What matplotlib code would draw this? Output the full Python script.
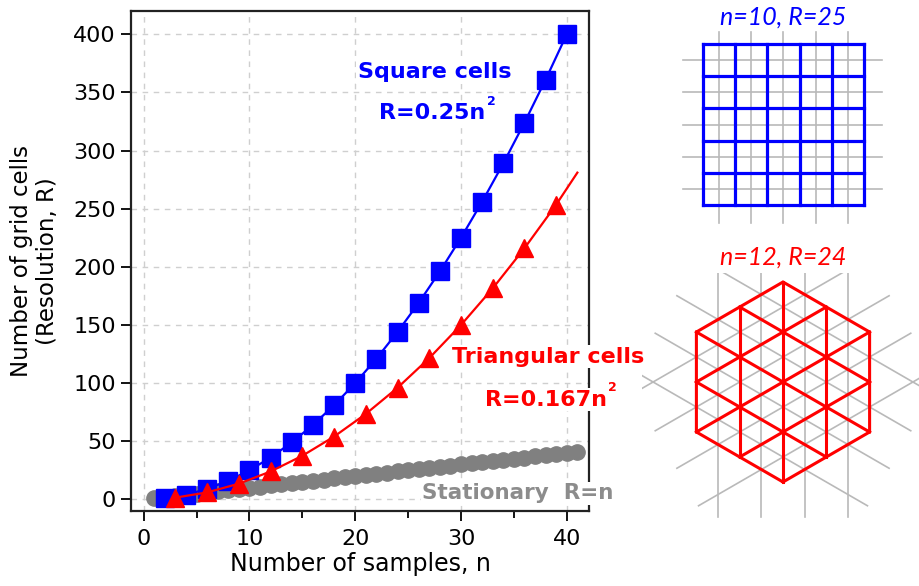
import numpy as np
import matplotlib
matplotlib.use("Agg")
import matplotlib.pyplot as plt
from matplotlib.patches import Rectangle

plt.rcParams['font.family'] = ['DejaVu Sans']

# square cells, R = 0.25 n^2
sq_n = [2, 4, 6, 8, 10, 12, 14, 16, 18, 20, 22, 24, 26, 28, 30, 32, 34, 36, 38, 40]
sq_R = [1, 4, 9, 16, 25, 36, 49, 64, 81, 100, 121, 144, 169, 196, 225, 256, 289, 324, 361, 400]
# triangular cells, R = 0.167 n^2
tri_n = [3, 6, 9, 12, 15, 18, 21, 24, 27, 30, 33, 36, 39]
tri_R = [1.5, 6, 13.5, 24, 37.5, 54, 73.5, 96, 121.5, 150, 181.5, 216, 253.5]
tri_fit_n = tri_n + [41]
tri_fit_R = tri_R + [281]
# stationary, R = n
stat_n = [1, 2, 3, 4, 5, 6, 7, 8, 9, 10, 11, 12, 13, 14, 15, 16, 17, 18, 19, 20, 21,
          22, 23, 24, 25, 26, 27, 28, 29, 30, 31, 32, 33, 34, 35, 36, 37, 38, 39, 40, 41]
stat_R = stat_n

BLUE = '#0000ff'
RED = '#ff0000'
GRAY = '#808080'
LGRAY = '#b9b9b9'

fig = plt.figure(figsize=(9.2, 5.86), dpi=100)

# overlay in pixel coordinates for the two schematic grids
ov = fig.add_axes([0, 0, 1, 1], zorder=0)
ov.set_xlim(0, 920)
ov.set_ylim(586, 0)
ov.axis('off')

# --- square grid: n=10 sample lines, 5x5 cells
cx, cy, cell, ncell = 783.5, 124.5, 32.2, 5
half = cell * ncell / 2
for k in range(-2, 3):
    ov.plot([cx + k * cell] * 2, [32, 223], color=LGRAY, lw=1.2)
    ov.plot([683, 882], [cy + k * cell] * 2, color=LGRAY, lw=1.2)
for k in range(ncell + 1):
    p = -half + k * cell
    ov.plot([cx + p] * 2, [cy - half, cy + half], color=BLUE, lw=2.3,
            solid_capstyle='projecting')
    ov.plot([cx - half, cx + half], [cy + p] * 2, color=BLUE, lw=2.3,
            solid_capstyle='projecting')
ov.text(cx, 17, "n=10, R=25", color=BLUE, style='italic', family='Lato',
        fontsize=18, ha='center', va='center')

# --- hexagonal triangular grid: n=12 sample lines, 24 cells
hx, hy, side = 783.0, 382.0, 100.0
step = side * np.sqrt(3) / 4  # spacing between parallel lines
clip = Rectangle((642, 273.3), 300, 330, transform=ov.transData)
for ang in (90, 30, -30):
    a = np.radians(ang)
    d = np.array([np.cos(a), np.sin(a)])
    nrm = np.array([-np.sin(a), np.cos(a)])
    # gray sample lines, offset by half a cell
    for off in (-1.5, -0.5, 0.5, 1.5):
        c = np.array([hx, hy]) + off * step * nrm
        p0, p1 = c - 135 * d, c + 135 * d
        ln, = ov.plot([p0[0], p1[0]], [p0[1], p1[1]], color=LGRAY, lw=1.2)
        ln.set_clip_path(clip)
for ang in (90, 30, -30):
    a = np.radians(ang)
    d = np.array([np.cos(a), np.sin(a)])
    nrm = np.array([-np.sin(a), np.cos(a)])
    for off, hl in ((-1, 75.0), (0, 100.0), (1, 75.0)):
        c = np.array([hx, hy]) + off * step * nrm
        p0, p1 = c - hl * d, c + hl * d
        ov.plot([p0[0], p1[0]], [p0[1], p1[1]], color=RED, lw=2.2)
angs = np.radians(np.arange(90, 451, 60))
ov.plot(hx + side * np.cos(angs), hy + side * np.sin(angs), color=RED, lw=2.2,
        solid_joinstyle='miter')
ov.text(hx, 257, "n=12, R=24", color=RED, style='italic', family='Lato',
        fontsize=18, ha='center', va='center')

# --- main chart
ax = fig.add_axes([131 / 920, 1 - 511 / 586, 458 / 920, 500 / 586], zorder=1)
ax.plot(stat_n, stat_R, 'o', color=GRAY, ms=11, zorder=2)
ax.plot(sq_n, sq_R, '-', color=BLUE, lw=1.6, zorder=3)
ax.plot(sq_n, sq_R, 's', color=BLUE, ms=12.5, zorder=3)
ax.plot(tri_fit_n, tri_fit_R, '-', color=RED, lw=1.6, zorder=4)
ax.plot(tri_n, tri_R, '^', color=RED, ms=13, zorder=4)

ax.set_xlim(-1.2, 42.1)
ax.set_ylim(-10, 420)
ax.set_xticks([0, 10, 20, 30, 40])
ax.set_xticks([5, 15, 25, 35], minor=True)
ax.set_yticks(range(0, 401, 50))
ax.tick_params(which='both', direction='out', width=1.3, labelsize=16,
               top=False, right=False)
ax.tick_params(axis='x', which='major', length=7, pad=6)
ax.tick_params(axis='x', which='minor', length=5)
ax.tick_params(axis='y', length=7, pad=4)
ax.grid(True, which='major', ls=(0, (4, 4)), color='#cfcfcf', lw=1)
for s in ax.spines.values():
    s.set_linewidth(1.6)
    s.set_color('#222222')

ax.set_xlabel("Number of samples, n", fontsize=17, labelpad=2)
ax.set_ylabel("Number of grid cells\n(Resolution, R)", fontsize=16.5, labelpad=10)

box = dict(facecolor='white', edgecolor='none', pad=1)


def label_sq(x, y, txt, color):
    # formula text with a small raised "2"
    t = ax.text(x, y, txt, color=color, fontsize=16, fontweight='bold',
                ha='center', va='baseline', bbox=box, zorder=5, clip_on=False)
    ax.annotate("2", xy=(1, 1), xycoords=t, xytext=(0.8, -1.0),
                textcoords='offset points', color=color, fontsize=9,
                fontweight='bold', ha='left', va='baseline', zorder=6,
                annotation_clip=False)


ax.text(27.5, 362, "Square cells", color=BLUE, fontsize=16, fontweight='bold',
        ha='center', va='baseline', bbox=box, zorder=5)
label_sq(27.3, 327, "R=0.25n", BLUE)
ax.text(38.2, 117.6, "Triangular cells", color=RED, fontsize=16, fontweight='bold',
        ha='center', va='baseline', bbox=box, zorder=5, clip_on=False)
label_sq(38.0, 80.7, "R=0.167n", RED)
ax.text(26.35, 0, "Stationary  R=n", color='#8c8c8c', fontsize=15.5, fontweight='bold',
        ha='left', va='baseline', bbox=box, zorder=5, clip_on=False)

fig.savefig("out.png", dpi=100)
